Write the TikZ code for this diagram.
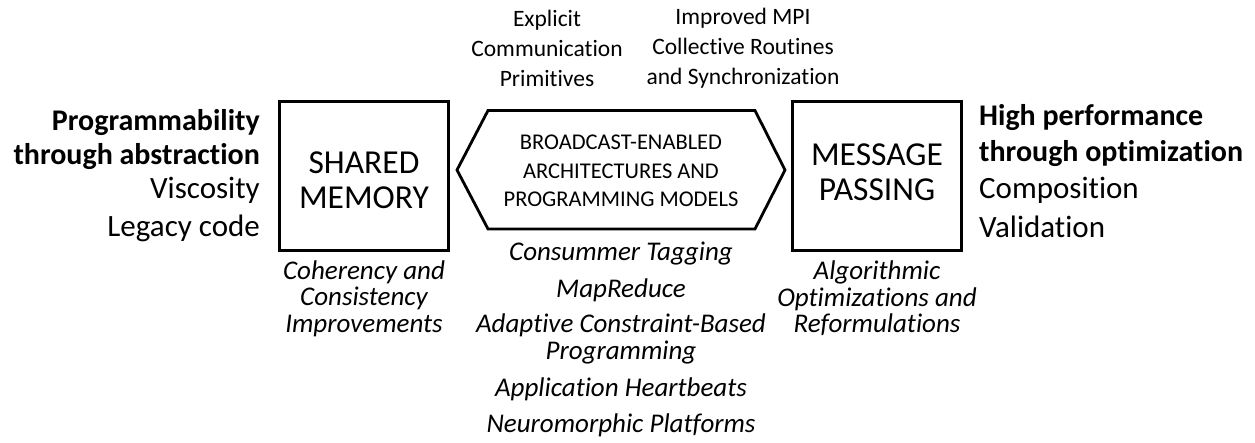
\documentclass[tikz,border=0pt]{standalone}
\usepackage{fontspec}
\setmainfont{Carlito}[Ligatures={NoCommon}]
\begin{document}
\begin{tikzpicture}[x=1pt,y=-1pt,
  box/.style={draw,line width=3.5pt,minimum width=169pt,minimum height=149pt,inner sep=0pt},
  big/.style={font=\fontsize{33.5}{35}\selectfont,align=center,inner sep=0pt},
  side/.style={font=\fontsize{31}{36}\selectfont,inner sep=0pt},
  sideb/.style={font=\fontsize{30}{36}\selectfont\bfseries,inner sep=0pt},
  top/.style={font=\fontsize{23.5}{30}\selectfont,align=center,inner sep=0pt},
  hextxt/.style={font=\fontsize{22.5}{28.5}\selectfont,align=center,inner sep=0pt},
  ital/.style={font=\fontsize{27}{26.5}\selectfont\itshape,align=center,inner sep=0pt}]
\useasboundingbox (0,0) rectangle (1255,442);
% boxes
\node[box] (sm) at (364,176) {};
\node[box] (mp) at (877,176) {};
\node[big] (smt) at (364,180) {SHARED\\MEMORY};
\node[big] (mpt) at (877,172) {MESSAGE\\PASSING};
% hexagon
\draw[line width=2.8pt,line join=miter] (457,170) -- (488,110.5) -- (755,110.5) -- (785,170) -- (755,229) -- (488,229) -- cycle;
\node[hextxt] (hx) at (621,171) {BROADCAST-ENABLED\\ARCHITECTURES AND\\PROGRAMMING MODELS};
% left side
\node[sideb,anchor=east] (l1) at (260,123) {Programmability};
\node[sideb,anchor=east] (l2) at (260,157) {through abstraction};
\node[side,anchor=east] (l3) at (260,190) {Viscosity};
\node[side,anchor=east] (l4) at (260,228) {Legacy code};
% right side
\node[sideb,anchor=west] (r1) at (979,118) {High performance};
\node[sideb,anchor=west] (r2) at (979,154) {through optimization};
\node[side,anchor=west] (r3) at (979,190) {Composition};
\node[side,anchor=west] (r4) at (979,227) {Validation};
% top
\node[top] (t1) at (547,48) {Explicit\\Communication\\Primitives};
\node[top] (t2) at (743,48) {Improved MPI\\Collective Routines\\and Synchronization};
% bottom
\node[ital] (b1) at (364,298.5) {Coherency and\\Consistency\\Improvements};
\node[ital] (b3) at (877,298.5) {Algorithmic\\Optimizations and\\Reformulations};
\node[ital] (c1) at (621,254) {Consummer Tagging};
\node[ital] (c2) at (621,290) {MapReduce};
\node[ital] (c3) at (621,339) {Adaptive Constraint-Based\\Programming};
\node[ital] (c4) at (621,389) {Application Heartbeats};
\node[ital] (c5) at (621,425) {Neuromorphic Platforms};
\end{tikzpicture}
\end{document}
